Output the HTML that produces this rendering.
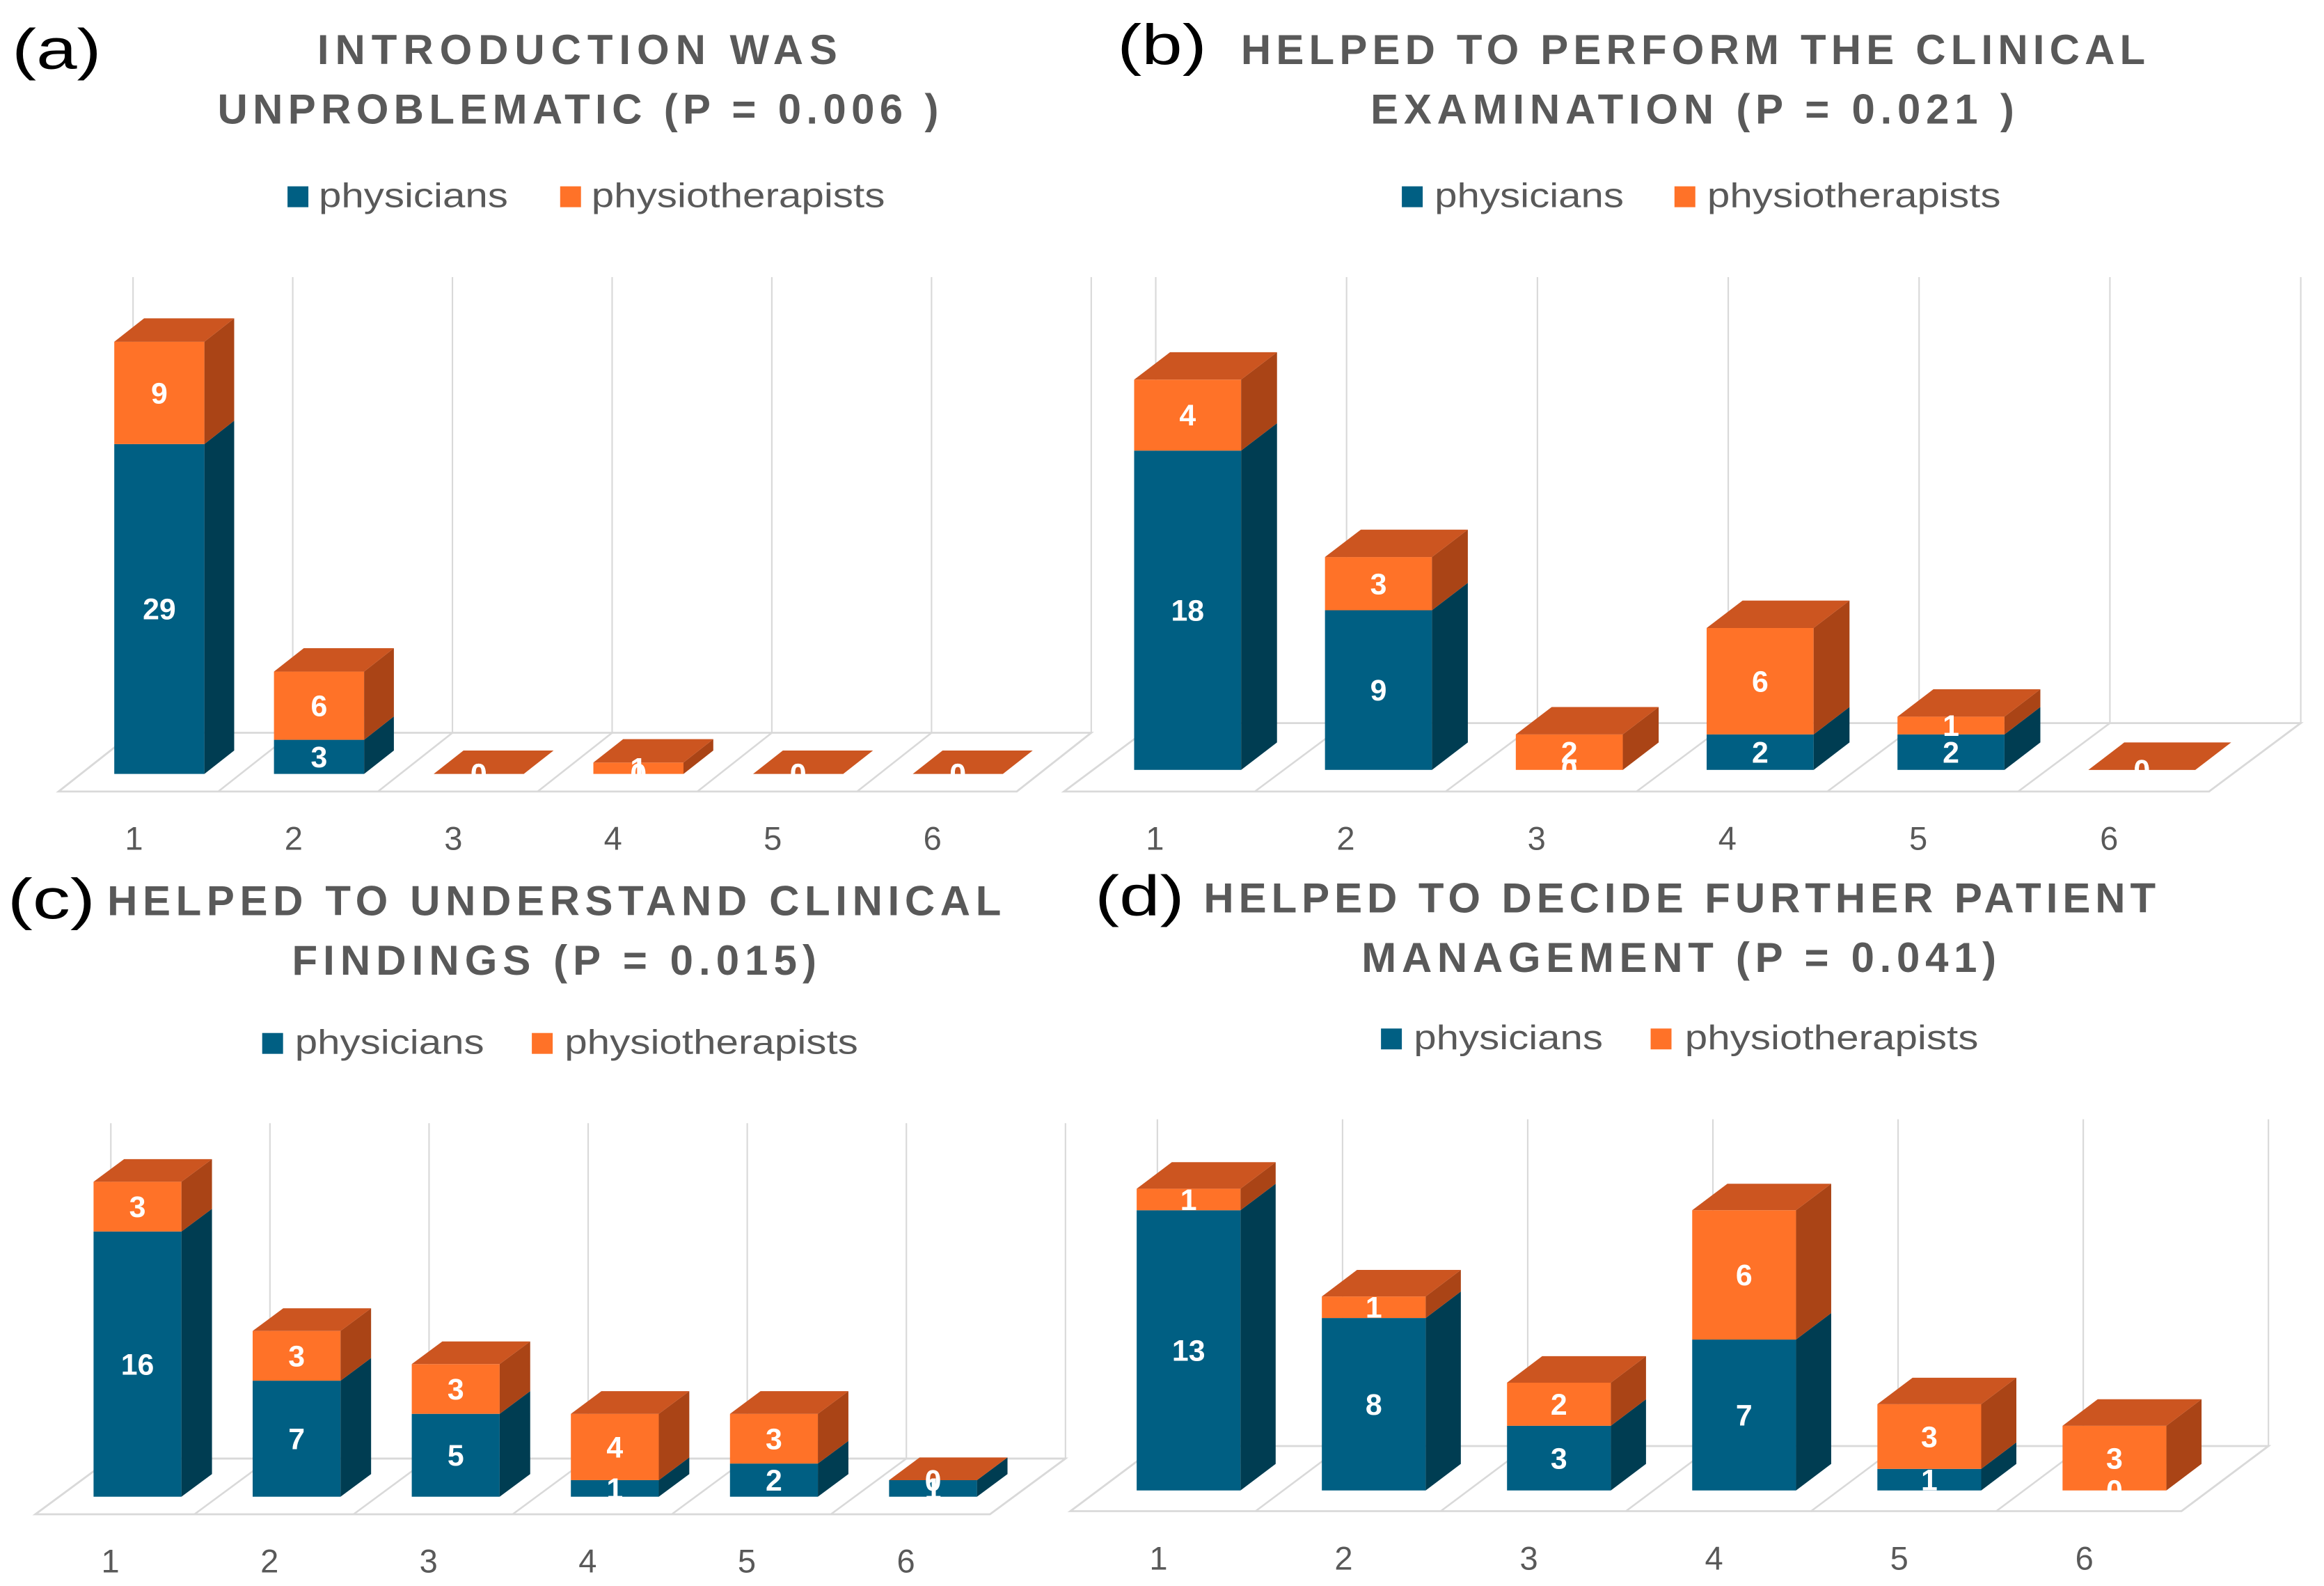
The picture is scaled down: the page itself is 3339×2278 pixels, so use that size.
<!DOCTYPE html>
<html><head><meta charset="utf-8"><style>
html,body{margin:0;padding:0;background:#fff;}
svg{display:block;}
text{font-family:"Liberation Sans",Arial,sans-serif;}
</style></head><body>
<svg id="chart" xmlns="http://www.w3.org/2000/svg" width="3339" height="2278" viewBox="0 0 1560 1064" preserveAspectRatio="none">
<rect width="1560" height="1064" fill="#fff"/>
<g font-size="38" fill="#000">
<text x="8" y="46" textLength="60" lengthAdjust="spacingAndGlyphs">(a)</text>
<text x="750" y="43" textLength="60" lengthAdjust="spacingAndGlyphs">(b)</text>
<text x="5" y="616" textLength="59" lengthAdjust="spacingAndGlyphs">(c)</text>
<text x="735" y="614" textLength="60" lengthAdjust="spacingAndGlyphs">(d)</text>
</g>
<g font-size="28" font-weight="bold" fill="#595959">
<text x="213" y="43" textLength="349" lengthAdjust="spacing">INTRODUCTION WAS</text>
<text x="146" y="83" textLength="484" lengthAdjust="spacing">UNPROBLEMATIC (P = 0.006 )</text>
<text x="833" y="43" textLength="607" lengthAdjust="spacing">HELPED TO PERFORM THE CLINICAL</text>
<text x="920" y="83" textLength="432" lengthAdjust="spacing">EXAMINATION (P = 0.021 )</text>
<text x="72" y="614" textLength="600" lengthAdjust="spacing">HELPED TO UNDERSTAND CLINICAL</text>
<text x="196" y="654" textLength="352" lengthAdjust="spacing">FINDINGS (P = 0.015)</text>
<text x="808" y="612" textLength="639" lengthAdjust="spacing">HELPED TO DECIDE FURTHER PATIENT</text>
<text x="914" y="652" textLength="426" lengthAdjust="spacing">MANAGEMENT (P = 0.041)</text>
</g>
<g id="plots"></g>
</svg>
<script>
const categories = ['1','2','3','4','5','6'];
const aPhysicians = [29, 3, 0, 0, 0, 0];
const aPhysio = [9, 6, 0, 1, 0, 0];
const bPhysicians = [18, 9, 0, 2, 2, 0];
const bPhysio = [4, 3, 2, 6, 1, 0];
const cPhysicians = [16, 7, 5, 1, 2, 1];
const cPhysio = [3, 3, 3, 4, 3, 0];
const dPhysicians = [13, 8, 3, 7, 1, 0];
const dPhysio = [1, 1, 2, 6, 3, 3];

const NS = 'http://www.w3.org/2000/svg';
const root = document.getElementById('plots');
function mk(tag, attrs, parent) {
  const e = document.createElementNS(NS, tag);
  for (const k in attrs) e.setAttribute(k, attrs[k]);
  parent.appendChild(e);
  return e;
}
const geoms = [
  {id:'a', phys:aPhysicians, physio:aPhysio, g0:89.3, sp:107.2, top:185.9, back:491.6, front:531, dx:50, base:519.2, off:-12.6, bw:60.5, ddx:20, ddy:-15.7, unit:7.63, labY:562, leg:{y:125, s1:193, t1:214, s2:376, t2:397}},
  {id:'b', phys:bPhysicians, physio:bPhysio, g0:775.8, sp:128.1, top:185.9, back:485.1, front:531, dx:61.6, base:516.5, off:-14.5, bw:71.8, ddx:24.1, ddy:-18.4, unit:11.9, labY:562, leg:{y:125, s1:941, t1:963, s2:1124, t2:1146}},
  {id:'c', phys:cPhysicians, physio:cPhysio, g0:74.4, sp:106.8, top:753.5, back:978.5, front:1015.9, dx:50.7, base:1004.1, off:-11.6, bw:59, ddx:20.5, ddy:-15.2, unit:11.12, labY:1047, leg:{y:693, s1:176, t1:198, s2:357, t2:379}},
  {id:'d', phys:dPhysicians, physio:dPhysio, g0:776.9, sp:124.3, top:750.9, back:970.1, front:1013.8, dx:58.4, base:999.9, off:-13.9, bw:69.7, ddx:23.6, ddy:-17.8, unit:14.46, labY:1045, leg:{y:690, s1:927, t1:949, s2:1108, t2:1131}}
];
const C = {bf:'#005F83', bs:'#003D52', of:'#FF7228', os:'#AA4416', ot:'#CC5520'};

geoms.forEach(G => {
  const g = mk('g', {}, root);
  
  
  const xg = i => G.g0 + i * G.sp;
  const yv = v => G.base - v * G.unit;
  const lg = mk('g', {}, g);
  
  
  const s1 = mk('rect', {x:G.leg.s1, y:G.leg.y, width:14, height:14, fill:C.bf}, lg);
  
  
  const t1 = mk('text', {x:G.leg.t1, y:G.leg.y+14, 'font-size':23, fill:'#595959', textLength:127, lengthAdjust:'spacingAndGlyphs'}, lg);
  t1.textContent = 'physicians';
  
  
  const s2 = mk('rect', {x:G.leg.s2, y:G.leg.y, width:14, height:14, fill:C.of}, lg);
  
  
  const t2 = mk('text', {x:G.leg.t2, y:G.leg.y+14, 'font-size':23, fill:'#595959', textLength:197, lengthAdjust:'spacingAndGlyphs'}, lg);
  t2.textContent = 'physiotherapists';
  
  
  for (let i = 0; i <= categories.length; i++) {
    const l = mk('line', {x1:xg(i), y1:G.top, x2:xg(i), y2:G.back, stroke:'#D9D9D9', 'stroke-width':1}, g);
    
    
  }
  const n = categories.length;
  const fl = mk('polygon', {points:`${xg(0)-G.dx},${G.front} ${xg(n)-G.dx},${G.front} ${xg(n)},${G.back} ${xg(0)},${G.back}`, fill:'#fff', stroke:'#D9D9D9', 'stroke-width':1.3}, g);
  
  
  for (let i = 0; i <= n; i++) {
    const d = mk('line', {x1:xg(i)-G.dx, y1:G.front, x2:xg(i), y2:G.back, stroke:'#D9D9D9', 'stroke-width':1.2}, g);
    
    
  }
  categories.forEach((cat, i) => {
    const x0 = xg(i) + G.off, x1 = x0 + G.bw;
    const p = G.phys[i], q = G.physio[i];
    const yb = G.base, ym = yv(p), yt = yv(p + q);
    const bar = mk('g', {}, g);
    
    
    if (p > 0) {
      const f = mk('rect', {x:x0, y:ym, width:G.bw, height:yb-ym, fill:C.bf}, bar);
      
      
      const s = mk('polygon', {points:`${x1},${yb} ${x1+G.ddx},${yb+G.ddy} ${x1+G.ddx},${ym+G.ddy} ${x1},${ym}`, fill:C.bs}, bar);
      
      
    }
    if (q > 0) {
      const f = mk('rect', {x:x0, y:yt, width:G.bw, height:ym-yt, fill:C.of}, bar);
      
      
      const s = mk('polygon', {points:`${x1},${ym} ${x1+G.ddx},${ym+G.ddy} ${x1+G.ddx},${yt+G.ddy} ${x1},${yt}`, fill:C.os}, bar);
      
      
    }
    const tp = mk('polygon', {points:`${x0},${yt} ${x1},${yt} ${x1+G.ddx},${yt+G.ddy} ${x0+G.ddx},${yt+G.ddy}`, fill:C.ot}, bar);
    
    
    const cx = x0 + G.bw/2;
    const l1 = mk('text', {x:cx, y:(yb+ym)/2 + 7, 'font-size':20, 'font-weight':'bold', fill:'#fff', 'text-anchor':'middle'}, bar);
    l1.textContent = String(p);
    
    
    const l2 = mk('text', {x:cx, y:(ym+yt)/2 + 7, 'font-size':20, 'font-weight':'bold', fill:'#fff', 'text-anchor':'middle'}, bar);
    l2.textContent = String(q);
    
    
    const cl = mk('text', {x:xg(i) - G.dx + G.sp/2 - 3, y:G.labY + 8, 'font-size':22, fill:'#595959', 'text-anchor':'middle'}, g);
    cl.textContent = cat;
    
    
  });
});
</script>
</body></html>
